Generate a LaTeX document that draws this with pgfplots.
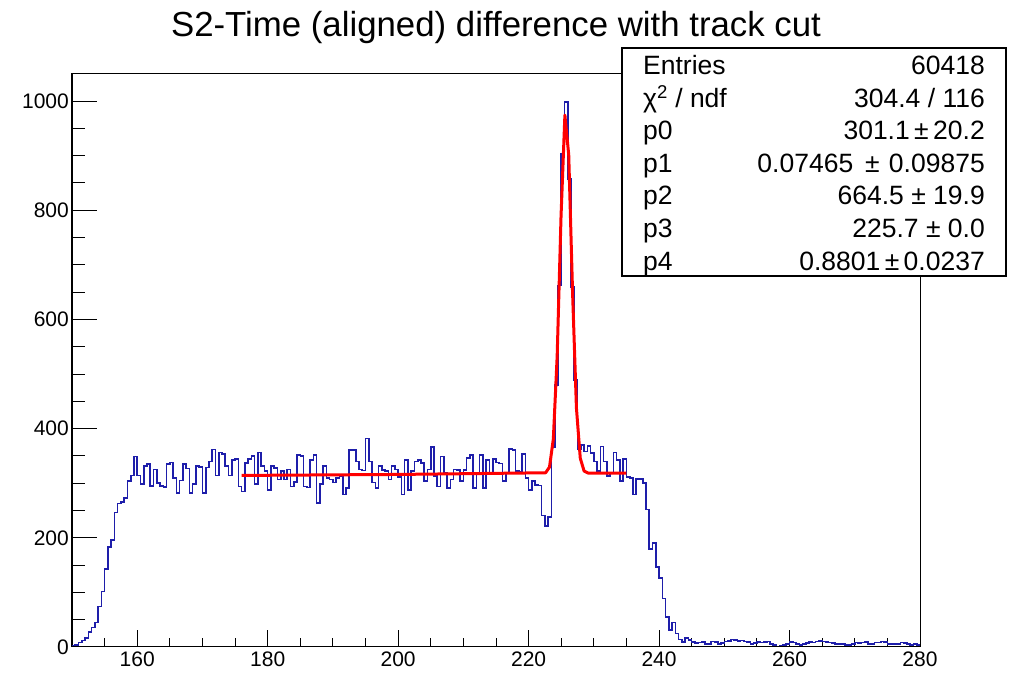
\documentclass[border=0pt]{standalone}
\usepackage{pgfplots}
\pgfplotsset{compat=1.18}
\usepackage{fontspec}
\setmainfont{Liberation Sans}
\definecolor{rootblue}{RGB}{30,30,170}
\begin{document}
\begin{tikzpicture}[x=1pt,y=1pt]
\path[use as bounding box] (0,0) rectangle (1013,674);
\begin{axis}[at={(72pt,27pt)}, anchor=south west, scale only axis,
  width=848pt, height=573pt,
  xmin=150, xmax=280, ymin=0, ymax=1049.5,
  axis line style={line width=1pt},
  tick style={line width=1pt, black},
  tick align=inside, xtick pos=bottom, ytick pos=left,
  xtick={160,180,...,280}, minor xtick={150,155,...,280},
  ytick=\empty,
  major tick length=17pt, minor tick length=8.5pt,
  xticklabel style={font=\fontsize{21}{25}\selectfont, inner sep=5pt},
  /pgf/number format/assume math mode=true,
  /pgf/number format/1000 sep={},
  clip=true]
\addplot[const plot, rootblue, line width=1.6pt, mark=none] coordinates {
(150.0,3)(150.5,4)(151.0,8)(151.5,12)(152.0,16)(152.5,27)(153.0,36)(153.5,45)(154.0,74)(154.5,102)
(155.0,143)(155.5,183)(156.0,196)(156.5,246)(157.0,263)(157.5,266)(158.0,273)(158.5,304)(159.0,314)(159.5,349)
(160.0,314)(160.5,298)(161.0,331)(161.5,335)(162.0,295)(162.5,325)(163.0,300)(163.5,295)(164.0,293)(164.5,335)
(165.0,338)(165.5,309)(166.0,282)(166.5,305)(167.0,335)(167.5,327)(168.0,282)(168.5,298)(169.0,331)(169.5,330)
(170.0,282)(170.5,329)(171.0,340)(171.5,362)(172.0,314)(172.5,356)(173.0,354)(173.5,332)(174.0,314)(174.5,343)
(175.0,344)(175.5,294)(176.0,285)(176.5,337)(177.0,344)(177.5,350)(178.0,298)(178.5,356)(179.0,331)(179.5,322)
(180.0,288)(180.5,331)(181.0,328)(181.5,307)(182.0,322)(182.5,307)(183.0,325)(183.5,294)(184.0,302)(184.5,352)
(185.0,350)(185.5,294)(186.0,292)(186.5,343)(187.0,352)(187.5,264)(188.0,298)(188.5,331)(189.0,310)(189.5,307)
(190.0,301)(190.5,310)(191.0,313)(191.5,279)(192.0,291)(192.5,361)(193.0,361)(193.5,340)(194.0,325)(194.5,323)
(195.0,382)(195.5,340)(196.0,301)(196.5,291)(197.0,332)(197.5,324)(198.0,322)(198.5,307)(199.0,332)(199.5,325)
(200.0,311)(200.5,279)(201.0,343)(201.5,288)(202.0,322)(202.5,340)(203.0,342)(203.5,337)(204.0,304)(204.5,325)
(205.0,366)(205.5,313)(206.0,294)(206.5,349)(207.0,319)(207.5,291)(208.0,307)(208.5,325)(209.0,324)(209.5,304)
(210.0,324)(210.5,346)(211.0,352)(211.5,291)(212.0,319)(212.5,352)(213.0,291)(213.5,343)(214.0,319)(214.5,344)
(215.0,338)(215.5,336)(216.0,304)(216.5,319)(217.0,363)(217.5,361)(218.0,322)(218.5,320)(219.0,354)(219.5,310)
(220.0,288)(220.5,304)(221.0,297)(221.5,296)(222.0,241)(222.5,222)(223.0,238)(223.5,366)(224.0,480)(224.5,662)
(225.0,904)(225.5,998)(226.0,857)(226.5,659)(227.0,489)(227.5,363)(228.0,370)(228.5,358)(229.0,368)(229.5,355)
(230.0,340)(230.5,322)(231.0,367)(231.5,340)(232.0,313)(232.5,319)(233.0,356)(233.5,343)(234.0,304)(234.5,344)
(235.0,311)(235.5,310)(236.0,279)(236.5,308)(237.0,308)(237.5,300)(238.0,252)(238.5,179)(239.0,191)(239.5,146)
(240.0,126)(240.5,89)(241.0,55)(241.5,31)(242.0,45)(242.5,25)(243.0,14)(243.5,9)(244.0,16)(244.5,13)
(245.0,9)(245.5,7)(246.0,8)(246.5,9)(247.0,5)(247.5,6)(248.0,10)(248.5,9)(249.0,6)(249.5,7)
(250.0,10)(250.5,11)(251.0,14)(251.5,13)(252.0,11)(252.5,12)(253.0,10)(253.5,9)(254.0,6)(254.5,7)
(255.0,9)(255.5,8)(256.0,9)(256.5,10)(257.0,5)(257.5,4)(258.0,1)(258.5,2)(259.0,4)(259.5,5)
(260.0,9)(260.5,8)(261.0,5)(261.5,4)(262.0,6)(262.5,7)(263.0,9)(263.5,8)(264.0,10)(264.5,11)
(265.0,10)(265.5,9)(266.0,8)(266.5,7)(267.0,6)(267.5,5)(268.0,5)(268.5,4)(269.0,4)(269.5,5)
(270.0,8)(270.5,7)(271.0,8)(271.5,9)(272.0,5)(272.5,6)(273.0,8)(273.5,8)(274.0,10)(274.5,9)
(275.0,6)(275.5,5)(276.0,5)(276.5,6)(277.0,8)(277.5,7)(278.0,5)(278.5,4)(279.0,5)(279.5,4)
(280.0,4)
};
\addplot[red, line width=3pt, line join=round, mark=none] coordinates {
(176.00,314.24)(200.00,316.03)(222.61,319.10)(223.20,329.5)(223.79,380.9)(224.38,533.6)
(224.97,789.0)(225.56,974.1)(226.15,901.1)(226.74,648.6)(227.33,437.7)(227.92,345.7)
(228.51,322.2)(229.10,318.6)(235.00,318.64)
};
\end{axis}
\begin{axis}[at={(72pt,27pt)}, anchor=south west, scale only axis,
  width=848pt, height=573pt,
  xmin=150, xmax=280, ymin=0, ymax=1049.5,
  axis line style={line width=1pt},
  tick style={line width=1pt, black},
  tick align=inside, xtick pos=bottom, ytick pos=left,
  xtick=\empty,
  ytick={0,200,...,1000}, minor ytick={0,50,...,1000},
  major tick length=25pt, minor tick length=12.5pt,
  yticklabel style={font=\fontsize{21}{25}\selectfont, inner sep=3pt},
  /pgf/number format/assume math mode=true,
  /pgf/number format/1000 sep={}]
\end{axis}
\node[anchor=base, font=\fontsize{34.8}{40}\selectfont] at (496,637) {S2-Time (aligned) difference with track cut};
\draw[line width=1.3pt, fill=white] (622,626) rectangle (1006,398);
\begin{scope}[every node/.style={font=\fontsize{26.5}{30}\selectfont, inner sep=0pt}]
\node[anchor=base west] at (643,599.5) {Entries};
\node[anchor=base east] at (985,599.5) {60418};
\node[anchor=base west] at (643,566.9) {χ\textsuperscript{2} / ndf};
\node[anchor=base east] at (985,566.9) {304.4 / 116};
\node[anchor=base west] at (643,534.3) {p0};
\node[anchor=base east] at (985,534.3) {301.1\,±\,20.2};
\node[anchor=base west] at (643,501.7) {p1};
\node[anchor=base east] at (985,501.7) {0.07465\hspace{0.45em}±\hspace{0.35em}0.09875};
\node[anchor=base west] at (643,469.1) {p2};
\node[anchor=base east] at (985,469.1) {664.5 ± 19.9};
\node[anchor=base west] at (643,436.5) {p3};
\node[anchor=base east] at (985,436.5) {225.7 ± 0.0};
\node[anchor=base west] at (643,403.9) {p4};
\node[anchor=base east] at (985,403.9) {0.8801\,±\,0.0237};
\end{scope}
\end{tikzpicture}
\end{document}
